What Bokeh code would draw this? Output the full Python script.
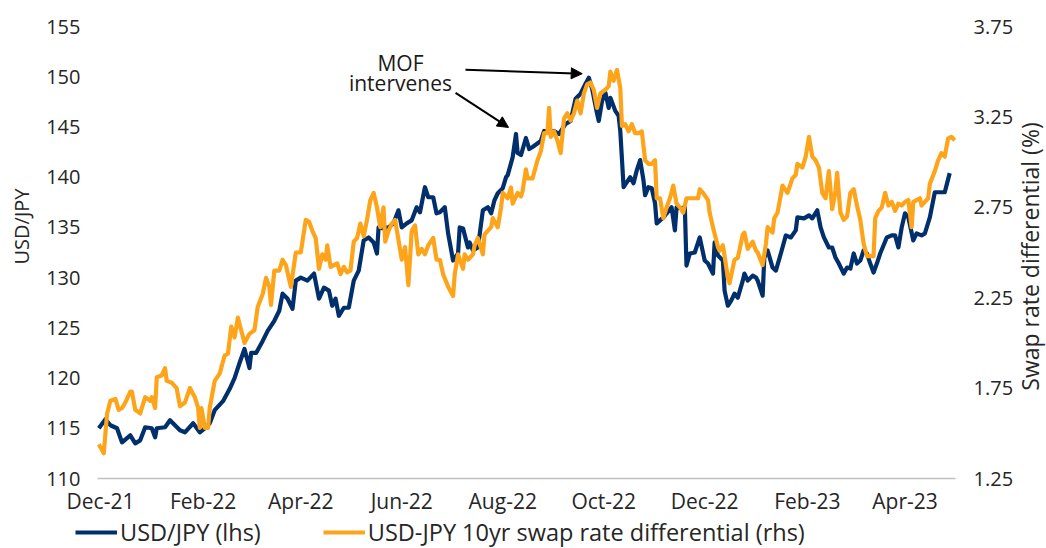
import math
import pandas as pd
from bokeh.plotting import figure
from bokeh.models import (Range1d, LinearAxis, FixedTicker, Legend, LegendItem,
                          Label, Arrow, NormalHead, NumeralTickFormatter, ColumnDataSource)
from bokeh.embed import file_html
from bokeh.resources import INLINE

# ---------------- data ----------------
START = pd.Timestamp("2021-12-01")   # day 0 of the day offsets below

tick_dates = ["2021-12-01", "2022-02-01", "2022-04-01", "2022-06-01", "2022-08-01",
              "2022-10-01", "2022-12-01", "2023-02-01", "2023-04-01"]
tick_labels = ["Dec-21", "Feb-22", "Apr-22", "Jun-22", "Aug-22",
               "Oct-22", "Dec-22", "Feb-23", "Apr-23"]
left_ticks = [110, 115, 120, 125, 130, 135, 140, 145, 150, 155]
right_ticks = [1.25, 1.75, 2.25, 2.75, 3.25, 3.75]

# USD/JPY (lhs): days since START, level
usd_days = [-1, 3, 6, 10, 13, 18, 21, 24, 27, 31,
            33, 34, 39, 42, 45, 48, 51, 56, 60, 63,
            66, 69, 74, 78, 81, 84, 87, 90, 91, 94,
            98, 101, 105, 108, 110, 113, 116, 118, 121, 125,
            129, 132, 135, 138, 140, 142, 144, 147, 150, 153,
            156, 159, 162, 165, 167, 168, 171, 174, 177, 180,
            182, 185, 188, 191, 193, 196, 198, 201, 203, 205,
            208, 210, 213, 216, 217, 219, 222, 223, 225, 228,
            231, 234, 236, 238, 240, 243, 245, 246, 249, 251,
            252, 254, 257, 259, 261, 266, 268, 271, 274, 277,
            281, 284, 287, 290, 293, 295, 297, 300, 301, 303,
            305, 307, 308, 311, 313, 314, 316, 318, 320, 322,
            324, 326, 328, 329, 331, 333, 335, 336, 338, 340,
            342, 345, 347, 348, 351, 353, 354, 356, 359, 362,
            365, 367, 370, 371, 373, 376, 377, 379, 381, 383,
            385, 388, 389, 391, 394, 396, 397, 400, 401, 403,
            406, 408, 411, 414, 417, 420, 421, 425, 428, 430,
            433, 435, 437, 440, 442, 444, 446, 449, 451, 453,
            455, 457, 459, 461, 463, 465, 467, 469, 471, 473,
            475, 478, 480, 482, 484, 486, 488, 491, 493, 496,
            498, 501, 504, 507, 510, 513]
usd_jpy = [115.0, 115.9, 115.3, 115.0, 113.6, 114.3, 113.5, 113.8, 115.1, 115.0,
           114.1, 115.0, 115.1, 115.8, 115.3, 114.8, 114.6, 115.5, 114.6, 115.0,
           115.5, 116.8, 117.7, 118.9, 120.0, 121.5, 122.9, 121.0, 122.5, 122.5,
           123.7, 124.7, 125.7, 126.7, 128.4, 127.9, 126.9, 129.7, 130.0, 129.7,
           130.4, 127.9, 129.0, 128.7, 127.2, 127.9, 126.2, 127.0, 127.0, 129.7,
           130.7, 133.7, 134.0, 133.5, 132.4, 135.0, 134.9, 135.0, 135.4, 136.7,
           135.0, 135.4, 135.7, 137.0, 136.5, 139.0, 138.0, 138.0, 136.4, 136.5,
           137.0, 134.4, 131.7, 132.4, 135.0, 134.9, 133.0, 133.5, 132.7, 133.0,
           136.7, 137.0, 136.4, 137.7, 138.4, 138.9, 140.0, 140.2, 142.0, 144.3,
           142.4, 142.2, 143.9, 142.8, 143.0, 143.6, 144.6, 144.4, 144.6, 144.3,
           145.3, 145.6, 147.8, 148.3, 149.3, 149.9, 148.8, 146.3, 145.6, 147.6,
           148.4, 146.9, 147.9, 146.6, 146.1, 144.6, 139.0, 139.5, 140.0, 139.4,
           140.7, 141.7, 139.7, 138.2, 139.0, 138.9, 137.4, 135.4, 135.7, 136.0,
           136.4, 137.0, 134.7, 137.0, 136.9, 137.0, 131.2, 132.4, 132.5, 134.0,
           131.7, 131.4, 130.4, 133.5, 132.2, 131.7, 128.7, 127.2, 127.7, 128.4,
           128.0, 129.7, 130.4, 129.7, 130.2, 130.0, 129.7, 128.2, 132.0, 132.7,
           131.0, 130.7, 132.4, 134.2, 134.0, 134.7, 136.0, 135.9, 136.2, 135.9,
           136.7, 135.0, 134.0, 133.0, 133.0, 132.0, 131.4, 130.4, 131.0, 130.9,
           132.4, 131.4, 131.7, 132.7, 132.4, 131.4, 130.5, 131.4, 132.4, 133.2,
           134.0, 134.2, 134.2, 133.0, 135.0, 136.4, 136.0, 133.7, 134.4, 134.2,
           134.4, 136.0, 138.5, 138.5, 138.5, 140.4]

# USD-JPY 10yr swap rate differential (rhs, %): days since START, level
swap_days = [-1, 2, 4, 6, 9, 11, 13, 15, 18, 19,
             21, 24, 27, 30, 31, 33, 34, 37, 39, 40,
             43, 46, 48, 51, 54, 57, 59, 60, 61, 63,
             65, 66, 69, 72, 75, 77, 79, 81, 83, 85,
             87, 90, 93, 95, 98, 100, 102, 103, 105, 108,
             110, 112, 115, 118, 121, 124, 126, 128, 130, 132,
             134, 136, 137, 139, 141, 143, 145, 147, 149, 151,
             153, 155, 157, 159, 161, 163, 165, 167, 169, 171,
             172, 174, 176, 178, 180, 182, 184, 186, 188, 190,
             192, 194, 196, 198, 201, 203, 205, 207, 210, 213,
             214, 216, 219, 220, 222, 225, 226, 228, 231, 232,
             236, 237, 240, 242, 243, 246, 248, 249, 252, 254,
             255, 257, 258, 261, 264, 266, 268, 270, 271, 272,
             274, 276, 278, 280, 282, 284, 286, 288, 290, 292,
             294, 296, 298, 300, 302, 305, 307, 308, 310, 312,
             314, 315, 317, 319, 321, 323, 325, 327, 329, 331,
             333, 335, 336, 338, 340, 342, 344, 346, 348, 350,
             352, 354, 357, 361, 362, 364, 367, 368, 370, 373,
             374, 376, 379, 380, 383, 385, 388, 389, 391, 394,
             396, 397, 400, 402, 403, 406, 407, 409, 411, 412,
             415, 418, 420, 421, 424, 426, 428, 430, 432, 434,
             436, 438, 440, 442, 444, 445, 447, 449, 451, 453,
             455, 457, 459, 461, 463, 465, 467, 468, 470, 472,
             474, 476, 478, 480, 482, 484, 486, 488, 490, 491,
             493, 495, 496, 498, 500, 501, 504, 506, 508, 510,
             512, 514, 516]
swap_diff = [1.44, 1.39, 1.61, 1.68, 1.69, 1.63, 1.64, 1.67, 1.73, 1.73,
             1.63, 1.61, 1.70, 1.68, 1.70, 1.64, 1.81, 1.82, 1.86, 1.79,
             1.78, 1.75, 1.65, 1.67, 1.75, 1.70, 1.64, 1.53, 1.64, 1.53,
             1.53, 1.64, 1.79, 1.83, 1.93, 1.94, 2.09, 2.03, 2.14, 2.07,
             2.00, 2.05, 2.07, 2.20, 2.27, 2.36, 2.31, 2.21, 2.40, 2.40,
             2.46, 2.43, 2.31, 2.50, 2.50, 2.68, 2.67, 2.62, 2.58, 2.41,
             2.49, 2.46, 2.54, 2.42, 2.43, 2.44, 2.38, 2.42, 2.39, 2.40,
             2.56, 2.58, 2.66, 2.59, 2.68, 2.79, 2.83, 2.75, 2.64, 2.75,
             2.56, 2.62, 2.66, 2.68, 2.57, 2.46, 2.53, 2.32, 2.62, 2.65,
             2.49, 2.52, 2.49, 2.54, 2.58, 2.46, 2.46, 2.38, 2.31, 2.26,
             2.38, 2.49, 2.41, 2.49, 2.46, 2.49, 2.54, 2.58, 2.49, 2.60,
             2.64, 2.69, 2.64, 2.75, 2.83, 2.80, 2.86, 2.77, 2.83, 2.81,
             2.84, 2.96, 2.91, 2.91, 3.01, 3.06, 3.16, 3.16, 3.30, 3.14,
             3.17, 3.12, 3.05, 3.24, 3.27, 3.23, 3.27, 3.34, 3.27, 3.38,
             3.43, 3.44, 3.40, 3.30, 3.38, 3.40, 3.42, 3.50, 3.45, 3.51,
             3.41, 3.20, 3.21, 3.17, 3.21, 3.16, 3.16, 3.17, 3.01, 2.99,
             2.99, 3.01, 2.80, 2.80, 2.69, 2.75, 2.80, 2.87, 2.77, 2.75,
             2.72, 2.80, 2.80, 2.80, 2.85, 2.83, 2.79, 2.72, 2.64, 2.53,
             2.51, 2.54, 2.36, 2.33, 2.46, 2.47, 2.60, 2.61, 2.52, 2.56,
             2.51, 2.50, 2.43, 2.55, 2.64, 2.61, 2.69, 2.72, 2.82, 2.87,
             2.83, 2.91, 2.93, 2.99, 2.97, 3.03, 3.14, 3.03, 3.01, 2.97,
             2.83, 2.80, 2.95, 2.74, 2.84, 2.94, 2.72, 2.68, 2.70, 2.83,
             2.85, 2.76, 2.68, 2.55, 2.48, 2.48, 2.48, 2.69, 2.73, 2.75,
             2.83, 2.76, 2.78, 2.73, 2.77, 2.76, 2.78, 2.79, 2.64, 2.78,
             2.79, 2.80, 2.76, 2.78, 2.80, 2.88, 2.95, 3.01, 3.05, 3.03,
             3.13, 3.14, 3.12]

assert len(usd_days) == len(usd_jpy)
assert len(swap_days) == len(swap_diff)

# annotation ("MOF intervenes") anchor points, in data units (day offset, USD/JPY)
note_lines = ["MOF", "intervenes"]
note_x = 181.2
note_y = [151.4, 149.4]
arrow1 = dict(x_start=214.5, y_start=148.4, x_end=246.5, y_end=144.95)
arrow2 = dict(x_start=220.5, y_start=150.7, x_end=291.0, y_end=150.3)

# ---------------- layout / style ----------------
W, H = 1046, 548
PLOT_L, PLOT_R, PLOT_T, PLOT_B = 97, 955, 26, 478      # pixel box of the data area
X0, X1 = -1.8, 516.5                                   # days shown
Y0, Y1 = 110, 155                                      # lhs
R0, R1 = 1.25, 3.75                                    # rhs

FONT = "Open Sans"
TXT = "#262626"
NAVY = "#002F6C"
ORANGE = "#FDA41B"

ppx = (PLOT_R - PLOT_L) / (X1 - X0)
ppy = (PLOT_B - PLOT_T) / (Y1 - Y0)
ppr = (PLOT_B - PLOT_T) / (R1 - R0)

tick_days = [(pd.Timestamp(d) - START).days for d in tick_dates]

p = figure(width=W, height=H, output_backend="svg", toolbar_location=None,
           x_range=Range1d(X0 - PLOT_L / ppx, X1 + (W - PLOT_R) / ppx),
           y_range=Range1d(Y0 - (H - PLOT_B) / ppy, Y1 + PLOT_T / ppy),
           min_border=0)
p.title.visible = False
p.extra_y_ranges = {"rhs": Range1d(R0 - (H - PLOT_B) / ppr, R1 + PLOT_T / ppr)}
p.outline_line_color = None
p.xgrid.visible = False
p.ygrid.visible = False
p.background_fill_color = "white"
p.border_fill_color = "white"

# bottom axis (drawn at the bottom of the data area)
xa = p.xaxis[0]
xa.fixed_location = Y0
xa.bounds = (X0, X1)
xa.ticker = FixedTicker(ticks=tick_days)
xa.major_label_overrides = {d: l for d, l in zip(tick_days, tick_labels)}
xa.axis_line_color = "#BFBFBF"
xa.axis_line_width = 1.5
xa.major_tick_line_color = None
xa.minor_tick_line_color = None
xa.major_tick_out = 0
xa.minor_tick_out = 0
xa.major_label_standoff = 8
xa.major_label_text_font = FONT
xa.major_label_text_font_size = "21px"
xa.major_label_text_color = TXT

# left axis
ya = p.yaxis[0]
ya.fixed_location = X0
ya.bounds = (Y0, Y1)
ya.ticker = FixedTicker(ticks=left_ticks)
ya.axis_line_color = None
ya.major_tick_line_color = None
ya.minor_tick_line_color = None
ya.major_tick_out = 0
ya.minor_tick_out = 0
ya.major_label_standoff = 17
ya.major_label_text_font = FONT
ya.major_label_text_font_size = "20px"
ya.major_label_text_color = TXT

# right axis
ra = LinearAxis(y_range_name="rhs", ticker=FixedTicker(ticks=right_ticks),
                formatter=NumeralTickFormatter(format="0.00"),
                fixed_location=X1, bounds=(R0, R1))
ra.axis_line_color = None
ra.major_tick_line_color = None
ra.minor_tick_line_color = None
ra.major_tick_out = 0
ra.minor_tick_out = 0
ra.major_label_standoff = 18
ra.major_label_text_font = FONT
ra.major_label_text_font_size = "20px"
ra.major_label_text_color = TXT
p.add_layout(ra, "right")

# series
src_usd = ColumnDataSource(dict(day=usd_days, value=usd_jpy))
src_swap = ColumnDataSource(dict(day=swap_days, value=swap_diff))
r_usd = p.line("day", "value", source=src_usd, line_color=NAVY, line_width=4.2,
               line_join="round")
r_swap = p.line("day", "value", source=src_swap, y_range_name="rhs",
                line_color=ORANGE, line_width=4.2, line_join="round")

# axis titles (both read bottom-to-top)
p.add_layout(Label(x=20.5, y=H - 226, x_units="screen", y_units="screen",
                   text="USD/JPY", angle=math.pi / 2, text_align="center",
                   text_baseline="middle", text_font=FONT, text_font_size="20px",
                   text_color=TXT))
p.add_layout(Label(x=1029, y=H - 256, x_units="screen", y_units="screen",
                   text="Swap rate differential (%)", angle=math.pi / 2,
                   text_align="center", text_baseline="middle", text_font=FONT,
                   text_font_size="23px", text_color=TXT))

# annotation
for txt, yy in zip(note_lines, note_y):
    p.add_layout(Label(x=note_x, y=yy, text=txt, text_align="center",
                       text_baseline="alphabetic", text_font=FONT,
                       text_font_size="21px", text_color="#1a1a1a"))
for a in (arrow1, arrow2):
    p.add_layout(Arrow(end=NormalHead(size=11, fill_color="black", line_color="black",
                                      line_width=1),
                       line_color="black", line_width=2, **a))

# legend
legend = Legend(items=[LegendItem(label="USD/JPY (lhs)", renderers=[r_usd]),
                       LegendItem(label="USD-JPY 10yr swap rate differential (rhs)",
                                  renderers=[r_swap])],
                orientation="horizontal", location=(75, 0), padding=0, margin=0,
                spacing=62, glyph_width=42, glyph_height=24, label_height=24,
                label_standoff=3, label_text_font=FONT, label_text_font_size="23.5px",
                label_text_color=TXT, border_line_color=None,
                background_fill_alpha=0)
p.add_layout(legend)

open("out.html", "w").write(file_html(p, INLINE))
